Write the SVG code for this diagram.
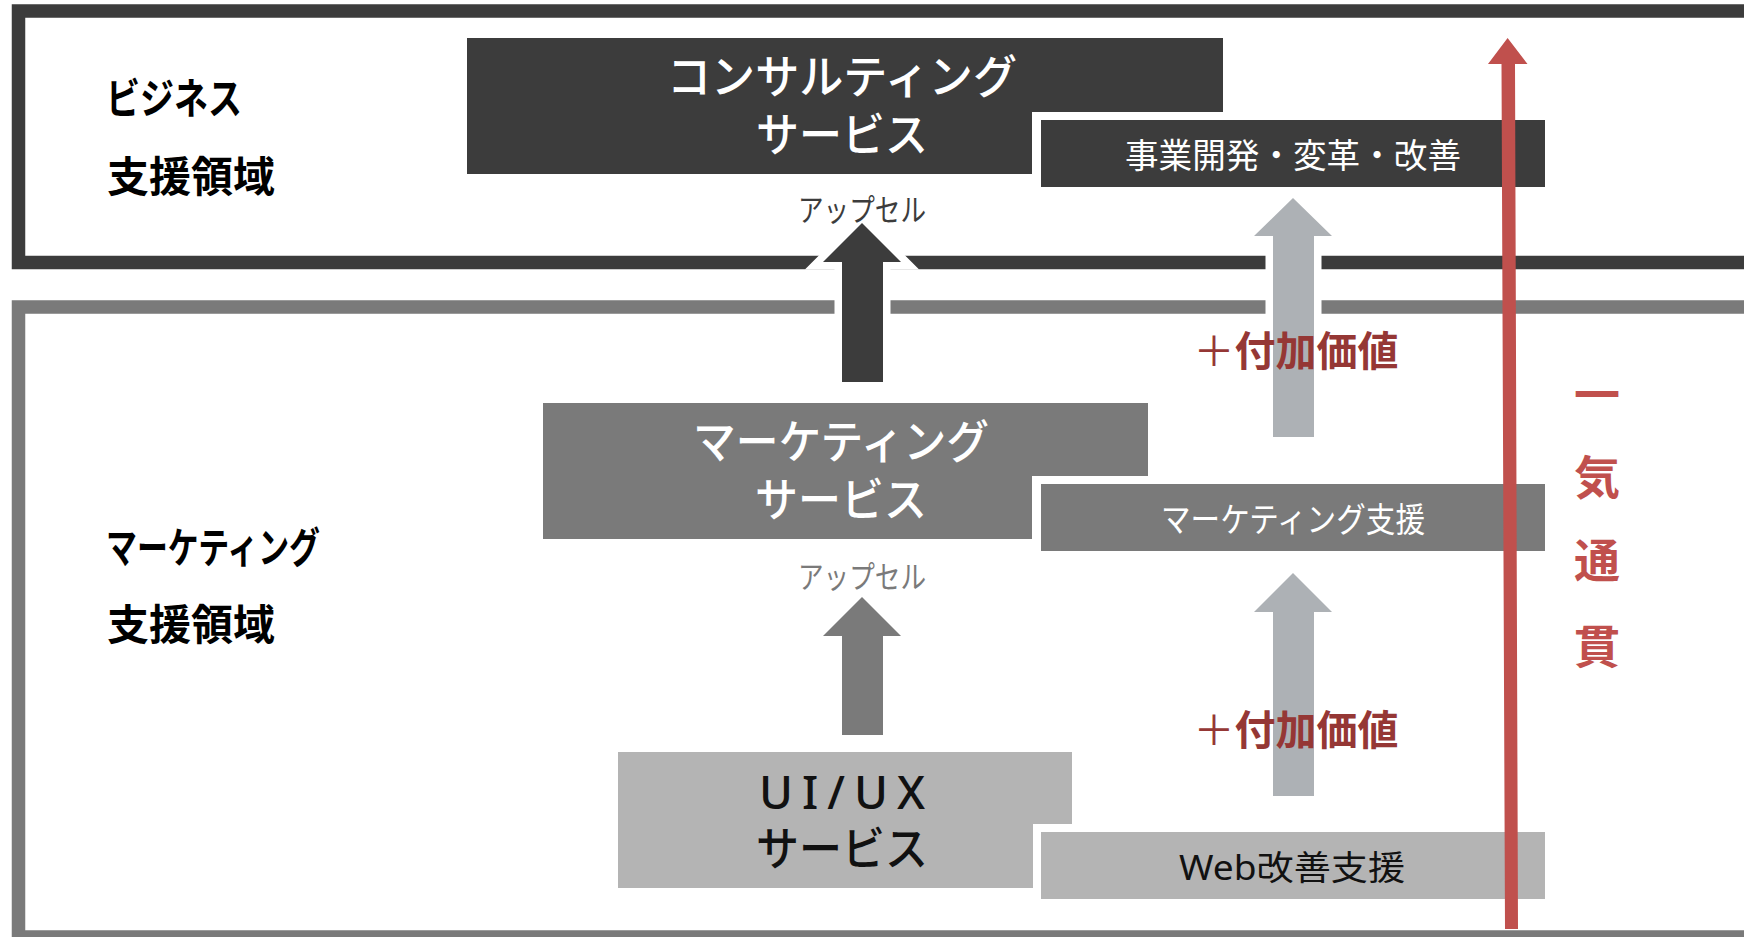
<svg xmlns="http://www.w3.org/2000/svg" width="1744" height="937" viewBox="0 0 1744 937">
<style>
text{font-family:"Noto Sans","Noto Sans CJK JP",sans-serif;}
.side{font-size:42px;font-weight:bold;fill:#000;}
.big{font-size:46px;font-weight:500;text-anchor:middle;}
.sub{font-size:34px;text-anchor:middle;}
.ups{font-size:31px;text-anchor:middle;}
.add{font-size:41px;font-weight:bold;fill:#953735;text-anchor:middle;}
.vert{font-size:46px;font-weight:bold;fill:#c0504d;text-anchor:middle;}
.halo{fill:#fff;stroke:#fff;stroke-width:15;stroke-linejoin:miter;stroke-miterlimit:10;}
.dk{fill:#3c3c3c;}
.md{fill:#7a7a7a;}
.lt{fill:#b4b4b4;}
.ar{fill:#adb1b5;}
.w{fill:#fff;}
</style>
<rect x="0" y="0" width="1744" height="937" fill="#fff"/>

<g id="frame-business">
<rect x="18.5" y="11" width="1800" height="251.5" fill="none" stroke="#3c3c3c" stroke-width="13.5"/>
<text class="side" x="106" y="114" textLength="136" lengthAdjust="spacingAndGlyphs">ビジネス</text>
<text class="side" x="107" y="192">支援領域</text>
</g>

<g id="frame-marketing">
<rect x="18.5" y="307" width="1800" height="630" fill="none" stroke="#7a7a7a" stroke-width="13.5"/>
<text class="side" x="106" y="563" textLength="214" lengthAdjust="spacingAndGlyphs">マーケティング</text>
<text class="side" x="107" y="640">支援領域</text>
</g>

<g id="node-consulting">
<rect class="dk" x="467" y="38" width="756" height="136"/>
<text class="big" x="842" y="93" fill="#fff" textLength="350" lengthAdjust="spacingAndGlyphs">コンサルティング</text>
<text class="big" x="842" y="151" fill="#fff" textLength="172" lengthAdjust="spacingAndGlyphs">サービス</text>
</g>
<g id="node-bizdev">
<rect class="w" x="1032" y="112" width="522" height="84"/>
<rect class="dk" x="1041" y="120" width="504" height="67"/>
<text class="sub" x="1293" y="168" fill="#fff" textLength="336" lengthAdjust="spacingAndGlyphs">事業開発・変革・改善</text>
</g>

<g id="node-marketing">
<rect class="md" x="543" y="403" width="605" height="136"/>
<text class="big" x="841" y="458" fill="#fff" textLength="296" lengthAdjust="spacingAndGlyphs">マーケティング</text>
<text class="big" x="841" y="516" fill="#fff" textLength="172" lengthAdjust="spacingAndGlyphs">サービス</text>
</g>
<g id="node-mksupport">
<rect class="w" x="1032" y="476" width="522" height="84"/>
<rect class="md" x="1041" y="484" width="504" height="67"/>
<text class="sub" x="1293" y="532" fill="#fff" textLength="264" lengthAdjust="spacingAndGlyphs">マーケティング支援</text>
</g>

<g id="node-uiux">
<rect class="lt" x="618" y="752" width="454" height="136"/>
<text class="big" x="842" y="809" fill="#111" textLength="166" lengthAdjust="spacing">UI/UX</text>
<text class="big" x="842" y="865" fill="#111" textLength="172" lengthAdjust="spacingAndGlyphs">サービス</text>
</g>
<g id="node-web">
<rect class="w" x="1033" y="824" width="521" height="84"/>
<rect class="lt" x="1041" y="832" width="504" height="67"/>
<text class="sub" x="1292" y="880" fill="#111" textLength="226" lengthAdjust="spacingAndGlyphs">Web改善支援</text>
</g>

<g id="connectors">
<polygon class="halo" points="862,223 901,262 883,262 883,382 842,382 842,262 823,262"/>
<polygon class="dk" points="862,223 901,262 883,262 883,382 842,382 842,262 823,262"/>
<polygon class="halo" points="862,597 901,636 883,636 883,735 842,735 842,636 823,636"/>
<polygon class="md" points="862,597 901,636 883,636 883,735 842,735 842,636 823,636"/>
<polygon class="halo" points="1293,198 1332,236 1314,236 1314,437 1273,437 1273,236 1254,236"/>
<polygon class="ar" points="1293,198 1332,236 1314,236 1314,437 1273,437 1273,236 1254,236"/>
<polygon class="halo" points="1293,573 1332,612 1314,612 1314,796 1273,796 1273,612 1254,612"/>
<polygon class="ar" points="1293,573 1332,612 1314,612 1314,796 1273,796 1273,612 1254,612"/>
<polygon fill="#c0504d" points="1507.6,38 1527.5,64 1515,64 1518,929 1505,929 1501.5,64 1488,64"/>
<text class="ups" x="862" y="221" fill="#3c3c3c" textLength="128" lengthAdjust="spacingAndGlyphs">アップセル</text>
<text class="ups" x="862" y="588" fill="#7a7a7a" textLength="128" lengthAdjust="spacingAndGlyphs">アップセル</text>
<text class="add" x="1296" y="366"><tspan font-weight="normal">＋</tspan>付加価値</text>
<text class="add" x="1296" y="745"><tspan font-weight="normal">＋</tspan>付加価値</text>
</g>

<g id="label-ikki">
<text class="vert" x="1597" y="411">一</text>
<text class="vert" x="1597" y="494">気</text>
<text class="vert" x="1597" y="577">通</text>
<text class="vert" x="1597" y="663">貫</text>
</g>
</svg>
